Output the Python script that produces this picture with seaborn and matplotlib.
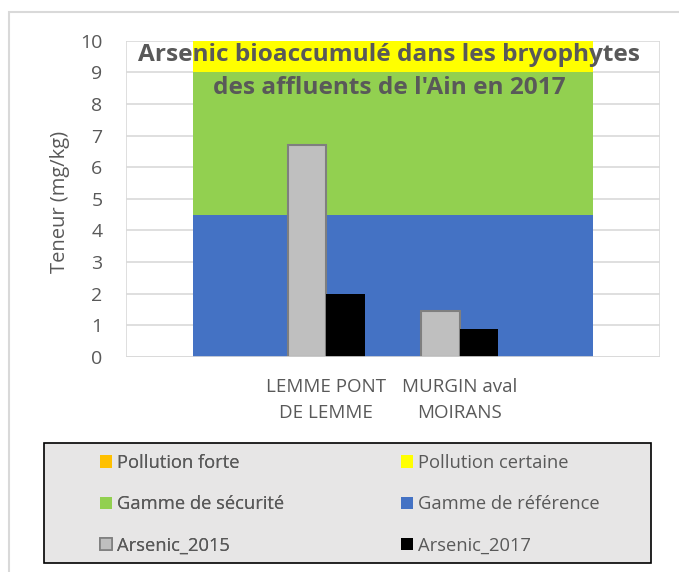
import matplotlib
matplotlib.use("Agg")
import matplotlib.pyplot as plt
from matplotlib.patches import Patch, Rectangle
import numpy as np
import pandas as pd
import seaborn as sns

# Sites along the x axis (outer slots are left empty)
sites = ["", "LEMME PONT\nDE LEMME", "MURGIN aval\nMOIRANS", " "]
arsenic_2015 = [np.nan, 6.7, 1.45, np.nan]
arsenic_2017 = [np.nan, 2.0, 0.9, np.nan]

# Quality ranges, stacked (mg/kg)
gamme_reference = [4.5, 4.5, 4.5, 4.5]
gamme_securite = [4.5, 4.5, 4.5, 4.5]
pollution_certaine = [1.0, 1.0, 1.0, 1.0]
pollution_forte = [5.0, 5.0, 5.0, 5.0]

title = "Arsenic bioaccumulé dans les bryophytes\ndes affluents de l'Ain en 2017"
ylabel = "Teneur (mg/kg)"

C_FORTE = "#FFC000"
C_CERTAINE = "#FFFF00"
C_SECU = "#92D050"
C_REF = "#4472C4"
C_2015 = "#BFBFBF"
C_2017 = "#000000"
TXT = "#595959"
GRID = "#D9D9D9"

sns.set_theme(style="white")
plt.rcParams["font.family"] = ["Open Sans", "DejaVu Sans"]

W, H = 679, 572
fig = plt.figure(figsize=(W / 100, H / 100), dpi=100)
ax = fig.add_axes([126 / W, 1 - 357 / H, (660 - 126) / W, (357 - 40.7) / H])

x = np.arange(len(sites))

# stacked ranges drawn as areas between first and last slot
base = np.zeros(len(sites))
for vals, col in [(gamme_reference, C_REF), (gamme_securite, C_SECU),
                  (pollution_certaine, C_CERTAINE), (pollution_forte, C_FORTE)]:
    top = base + np.array(vals)
    ax.fill_between(x, base, top, color=col, linewidth=0, zorder=2)
    base = top

df = pd.DataFrame({
    "site": sites * 2,
    "serie": ["Arsenic_2015"] * len(sites) + ["Arsenic_2017"] * len(sites),
    "teneur": arsenic_2015 + arsenic_2017,
})
sns.barplot(data=df, x="site", y="teneur", hue="serie", order=sites,
            hue_order=["Arsenic_2015", "Arsenic_2017"],
            palette=[C_2015, C_2017], width=0.58, ax=ax, legend=False,
            zorder=3, saturation=1)
for p in ax.patches:
    if isinstance(p, Rectangle):
        if p.get_facecolor()[0] > 0.5:
            p.set_edgecolor("#7F7F7F")
            p.set_linewidth(1.5)
        else:
            p.set_linewidth(0)

ax.set_xlim(-0.5, 3.5)
ax.set_ylim(0, 10)
ax.set_yticks(range(0, 11))
ax.set_xticks(x)
ax.set_xticklabels(sites)
ax.set_xticks(np.arange(-0.5, 4.0, 1.0), minor=True)
ax.set_xlabel("")
ax.set_ylabel("")
for s in ax.spines.values():
    s.set_visible(False)
ax.axhline(0, color=GRID, lw=1.2, zorder=4)
ax.grid(axis="y", color=GRID, lw=1.2, zorder=0)
ax.grid(axis="x", which="minor", color=GRID, lw=1.2, zorder=0)
ax.set_axisbelow(True)
ax.tick_params(axis="y", length=0, labelsize=14, labelcolor=TXT, pad=17)
ax.tick_params(axis="x", which="major", length=0, labelsize=13.5, labelcolor=TXT, pad=15)
ax.tick_params(axis="x", which="minor", length=6, width=1.2, color=GRID)
for lab in ax.get_xticklabels():
    lab.set_linespacing(1.6)

fig.text(60 / W, 1 - 202 / H, ylabel, rotation=90, ha="center", va="center",
         fontsize=14.5, color=TXT)
fig.text(389 / W, 1 - 71.5 / H, title, ha="center", va="center",
         fontsize=17.6, fontweight="bold", color=TXT, linespacing=1.45)

# outer chart frame
fig.add_artist(Rectangle((9 / W, -0.1), 1.2, 1 - 12 / H + 0.1,
                         transform=fig.transFigure, fill=False,
                         edgecolor=GRID, lw=1.5))

# legend box
fig.add_artist(Rectangle((44 / W, 1 - 563 / H), (651 - 44) / W, 120 / H,
                         transform=fig.transFigure, facecolor="#E7E6E6",
                         edgecolor="#000000", lw=1.2, zorder=5))

col1 = [
    Patch(facecolor=C_FORTE, edgecolor="none", label="Pollution forte"),
    Patch(facecolor=C_SECU, edgecolor="none", label="Gamme de sécurité"),
    Patch(facecolor=C_2015, edgecolor="#7F7F7F", lw=1.2, label="Arsenic_2015"),
]
col2 = [
    Patch(facecolor=C_CERTAINE, edgecolor="none", label="Pollution certaine"),
    Patch(facecolor=C_REF, edgecolor="none", label="Gamme de référence"),
    Patch(facecolor=C_2017, edgecolor="none", label="Arsenic_2017"),
]
legs = []
for handles, x0 in [(col1, 100), (col2, 401)]:
    lg = fig.legend(handles=handles, loc="upper left",
                    bbox_to_anchor=(x0 / W, 1 - 454 / H),
                    fontsize=13.2, frameon=False,
                    handlelength=0.65, handleheight=0.65, handletextpad=0.27,
                    labelspacing=1.27, borderpad=0, borderaxespad=0,
                    labelcolor=TXT)
    lg.set_zorder(6)
    legs.append(lg)
fig.add_artist(legs[0])

fig.savefig("out.png", dpi=100)
